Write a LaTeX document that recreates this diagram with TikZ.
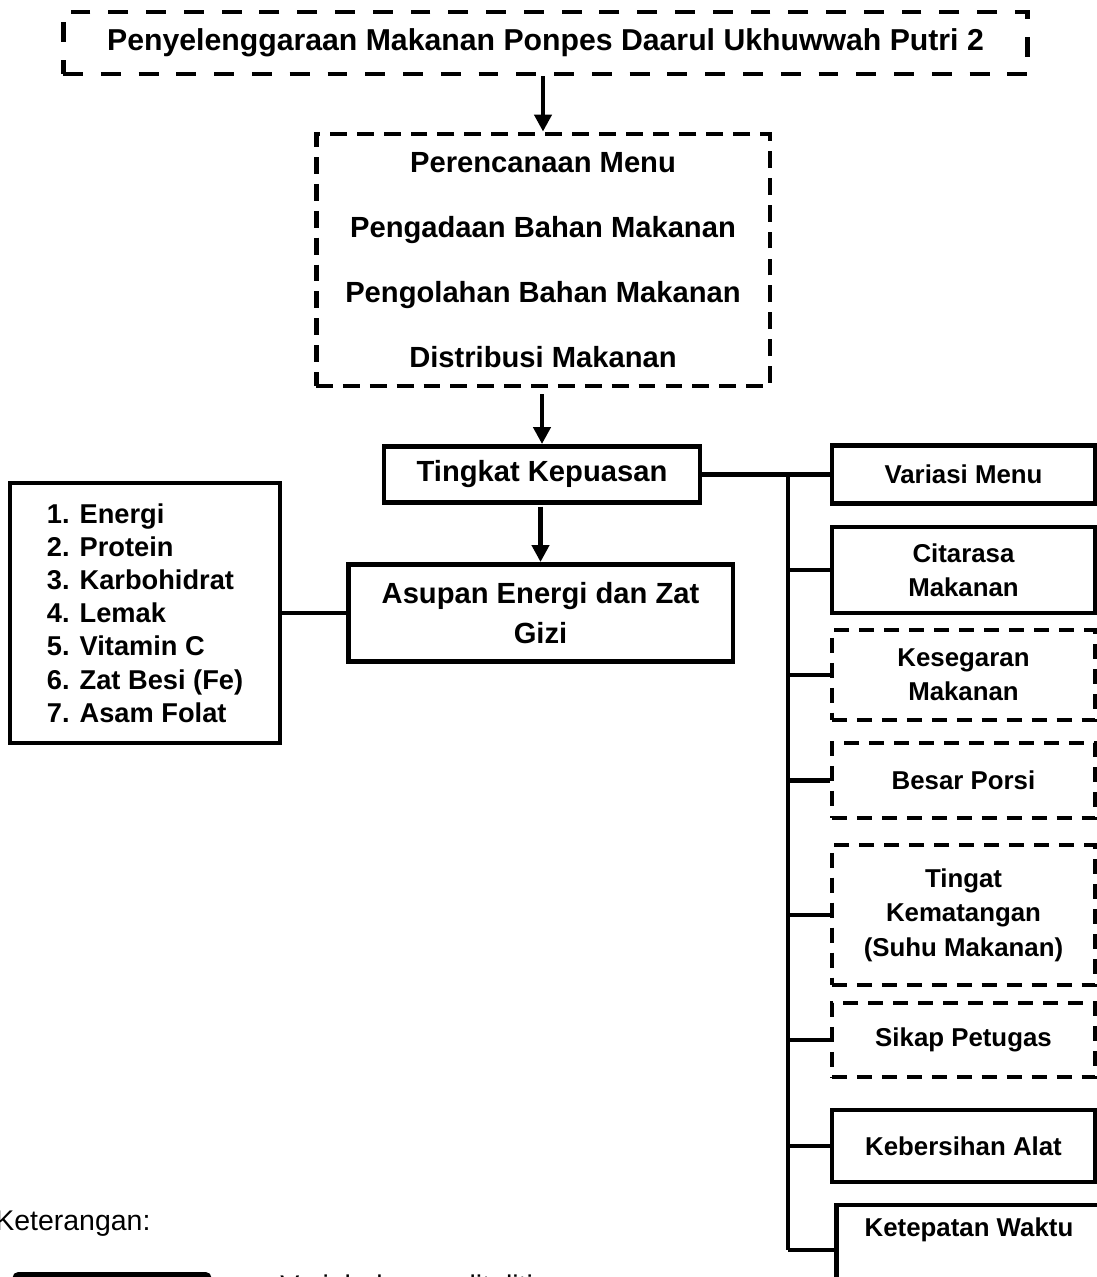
\documentclass[tikz,border=0pt]{standalone}
\usepackage{fontspec}
\setmainfont{Liberation Sans}
\usetikzlibrary{arrows.meta, positioning}

\tikzset{
  box/.style={draw, line width=2.8pt, inner sep=0pt, align=center,
    font=\bfseries\fontsize{16.6}{22.7}\selectfont},
  dashbox/.style={box, dash pattern=on 9.6pt off 5.7pt},
  sidebox/.style={draw, line width=2.8pt, inner sep=0pt, align=center,
    minimum width=5.26cm, font=\bfseries\fontsize{14.7}{19.6}\selectfont},
  sidedash/.style={sidebox, dash pattern=on 8.5pt off 5.7pt},
  link/.style={line width=2.8pt},
  flow/.style={line width=2.4pt, -{Triangle[length=9.6pt,width=9.6pt]}},
  legtext/.style={anchor=base west, inner sep=0pt, font=\fontsize{16.2}{19}\selectfont},
}

\begin{document}
\begin{tikzpicture}[x=0.02cm, y=-0.02cm]
    \useasboundingbox (0,0) rectangle (1097,1277);

    % main chain
    \node[box, dash pattern=on 11.3pt off 10.2pt, font=\bfseries\fontsize{17.2}{20}\selectfont,
          minimum width=19.3cm, minimum height=1.24cm] (penyel) at (545.5,43)
        {Penyelenggaraan Makanan Ponpes Daarul Ukhuwwah Putri 2};
    \node[dashbox, font=\bfseries\fontsize{16.6}{36.9}\selectfont,
          minimum width=9.08cm, minimum height=5.04cm] (tahap) at (543,260)
        {Perencanaan Menu\\Pengadaan Bahan Makanan\\Pengolahan Bahan Makanan\\Distribusi Makanan};
    \node[box, minimum width=6.32cm, minimum height=1.12cm] (puas) at (542,474.5) {Tingkat Kepuasan};
    \node[box, minimum width=7.7cm, minimum height=1.94cm] (asupan) at (540.5,613)
        {Asupan Energi dan Zat\\Gizi};
    \node[box, align=left, font=\bfseries\fontsize{15.5}{18.9}\selectfont,
          minimum width=5.4cm, minimum height=5.2cm] (zatgizi) at (145,613)
        {1. Energi\\2. Protein\\3. Karbohidrat\\4. Lemak\\5. Vitamin C\\6. Zat Besi (Fe)\\7. Asam Folat};

    \draw[flow] (tahap.north |- penyel.south) -- (tahap.north);
    \draw[flow, shorten <=3.4pt] (puas.north |- tahap.south) -- (puas.north);
    \draw[flow, shorten <=1pt] (asupan.north |- puas.south) -- (asupan.north);
    \draw[link] (zatgizi.east) -- (asupan.west);

    % satisfaction aspects
    \node[sidebox, minimum height=1.16cm] (variasi) at (963.5,474.5) {Variasi Menu};
    \node[sidebox, minimum height=1.72cm] (citarasa) at (963.5,570) {Citarasa\\Makanan};
    \node[sidedash, minimum height=1.8cm] (segar) at (963.5,675) {Kesegaran\\Makanan};
    \node[sidedash, minimum height=1.5cm] (porsi) at (963.5,780.5) {Besar Porsi};
    \node[sidedash, minimum height=2.8cm] (matang) at (963.5,915) {Tingat\\Kematangan\\(Suhu Makanan)};
    \node[sidedash, minimum height=1.48cm] (sikap) at (963.5,1040) {Sikap Petugas};
    \node[sidebox, minimum height=1.44cm] (bersih) at (963.5,1146) {Kebersihan Alat};
    \node[sidebox, minimum width=5.3cm, minimum height=1.8cm] (waktu) at (969,1250)
        {Ketepatan Waktu\\ \strut};

    \coordinate (bus) at (788,474.5);
    \draw[link] (puas.east) -- (variasi.west);
    \draw[link] (bus) -- (bus |- waktu.west);
    \foreach \n in {citarasa, segar, porsi, matang, sikap, bersih, waktu}
        \draw[link] (bus |- \n.west) -- (\n.west);

    % legend
    \node[legtext] (ket) at (-5,1230) {Keterangan:};
    \node[draw, line width=2.8pt, rounded corners=2pt, minimum width=3.88cm,
          minimum height=1.1cm] (legbox) at (112,1302) {};
    \node[legtext] (legvar) at (280,1295) {Variabel yang diteliti};
\end{tikzpicture}
\end{document}
